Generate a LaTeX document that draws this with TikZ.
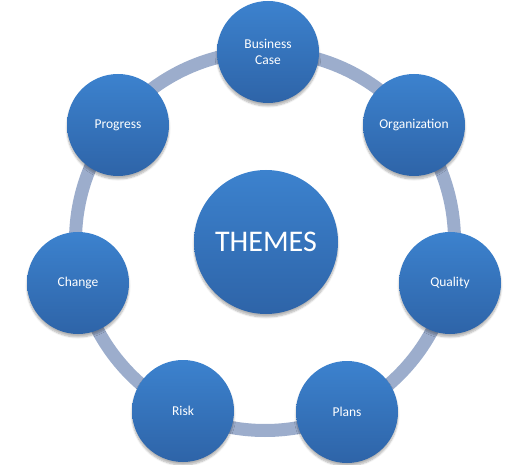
\documentclass[tikz,border=0pt]{standalone}
\usepackage{fontspec}
\setmainfont{Carlito}
\usetikzlibrary{shadows.blur}
\definecolor{ringc}{RGB}{156,173,204}
\definecolor{topb}{RGB}{60,130,206}
\definecolor{botb}{RGB}{46,100,168}
\tikzset{
  themebubble/.style={circle, minimum size=102pt, inner sep=0pt, text=white,
    top color=topb, bottom color=botb, draw=none, align=center,
    font=\fontsize{13.5}{16}\selectfont,
    blur shadow={shadow xshift=0pt, shadow yshift=-3pt, shadow opacity=30, shadow blur steps=6}},
  centerbubble/.style={themebubble, minimum size=144pt, font=\fontsize{30}{34}\selectfont},
  ringline/.style={draw=ringc, line width=13pt}
}
\begin{document}
\begin{tikzpicture}[x=1pt,y=-1pt]
\useasboundingbox (0,0) rectangle (525,465);
\coordinate (ctr) at (265,241);
\draw[ringline] (ctr) circle[radius=189.5];
\node[centerbubble] (themes) at (266,242) {THEMES};
\node[themebubble] (business) at (268,52) {Business\\Case};
\node[themebubble] (org) at (414,125) {Organization};
\node[themebubble] (quality) at (450,283) {Quality};
\node[themebubble] (plans) at (347,412) {Plans};
\node[themebubble] (risk) at (183,411) {Risk};
\node[themebubble] (change) at (78,283) {Change};
\node[themebubble] (progress) at (118,125) {Progress};
\end{tikzpicture}
\end{document}
